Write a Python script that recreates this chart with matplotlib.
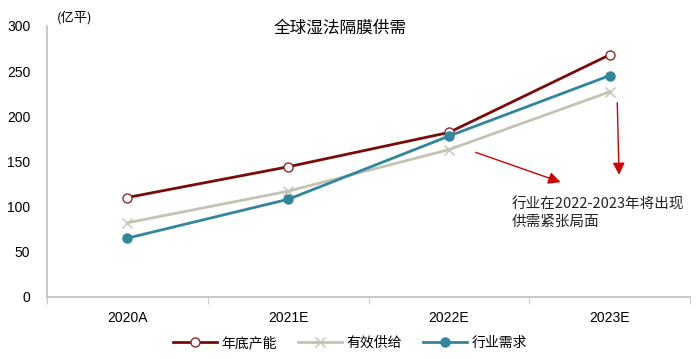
import matplotlib.pyplot as plt

plt.rcParams['font.family'] = ['Liberation Sans', 'Noto Sans CJK SC', 'DejaVu Sans']
cjk = ['Noto Sans CJK SC', 'DejaVu Sans']

years = ['2020A', '2021E', '2022E', '2023E']
capacity = [110, 144, 182, 268]
supply = [82, 117, 163, 227]
demand = [65, 108, 178, 245]

fig = plt.figure(figsize=(7, 3.59), dpi=100)
ax = fig.add_axes([0.067, 0.173, 0.919, 0.755])
x = range(len(years))

ax.plot(x, capacity, color='#7b0a0a', lw=2, marker='o', ms=6.5,
        mfc='white', mec='#8b2a2a', mew=1, label='年底产能')
ax.plot(x, supply, color='#c4c3b3', lw=2, marker='x', ms=6.5,
        mec='#c4c3b3', label='有效供给')
ax.plot(x, demand, color='#31859c', lw=2, marker='o', ms=6.5,
        mfc='#31859c', mec='#31859c', label='行业需求')

ax.set_xlim(-0.5, 3.5)
ax.set_ylim(0, 300)
ax.set_yticks(range(0, 301, 50))
ax.set_xticks(x)
ax.set_xticklabels(years)
ax.set_xticks([-0.5, 0.5, 1.5, 2.5, 3.5], minor=True)
ax.tick_params(axis='x', which='major', length=0, pad=10, labelsize=10)
ax.tick_params(axis='x', which='minor', length=5, color='#bfbfbf')
ax.tick_params(axis='y', length=0, pad=12, labelsize=10)
for s in ['top', 'right']:
    ax.spines[s].set_visible(False)
for s in ['left', 'bottom']:
    ax.spines[s].set_color('#bfbfbf')
    ax.spines[s].set_linewidth(1.2)

fig.text(0.486, 0.92, '全球湿法隔膜供需', ha='center', va='center', fontsize=12, family=cjk)
fig.text(0.107, 0.95, '(亿平)', ha='center', va='center', fontsize=9.5, family=cjk)

arrow = dict(arrowstyle='-|>', color='#d00000', lw=1, mutation_scale=18)
ax.annotate('', xy=(2.71, 126), xytext=(2.15, 161), arrowprops=arrow)
ax.annotate('', xy=(3.058, 132), xytext=(3.046, 218), arrowprops=arrow)
ax.text(2.39, 93, '行业在2022-2023年将出现\n供需紧张局面', fontsize=10.5,
        va='center', ha='left', linespacing=1.3, color='#222222', family=cjk)

fig.legend(loc='lower center', bbox_to_anchor=(0.5, -0.01), ncol=3, frameon=False,
           handlelength=3.2, columnspacing=1.5, handletextpad=0.3,
           prop={'family': cjk, 'size': 10})

fig.savefig('out.png', dpi=100)
